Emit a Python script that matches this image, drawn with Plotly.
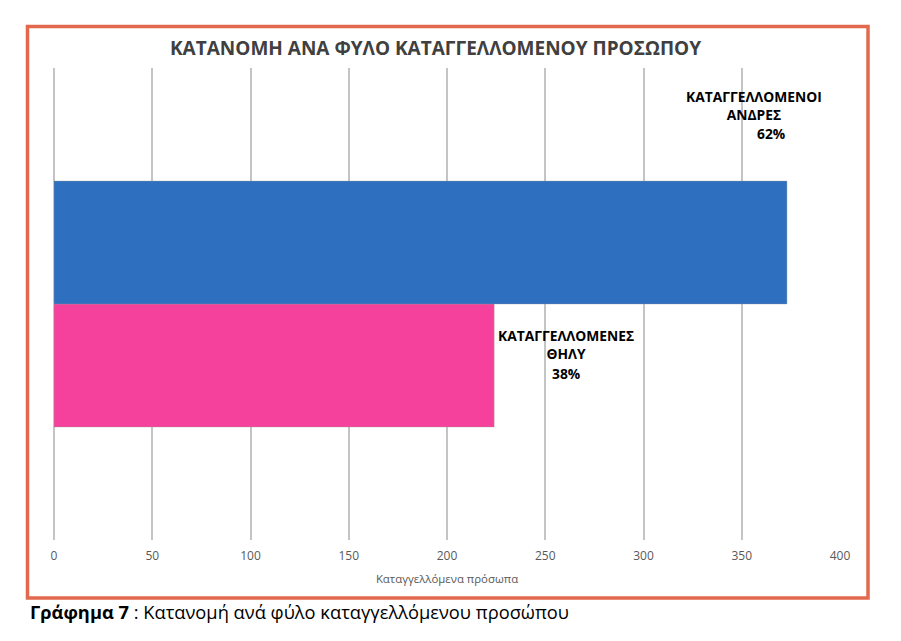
import plotly.graph_objects as go

# Data
categories = ["ΚΑΤΑΓΓΕΛΛΟΜΕΝΕΣ<br>ΘΗΛΥ", "ΚΑΤΑΓΓΕΛΛΟΜΕΝΟΙ<br>ΑΝΔΡΕΣ"]
values = [224, 373]
percents = ["38%", "62%"]
colors = ["#F6419C", "#2E6FBF"]
group = ["Φύλο"]
tick_vals = [0, 50, 100, 150, 200, 250, 300, 350, 400]

FONT = "Open Sans"
W, H = 901, 641
L, R, T, B = 54, 61, 68, 101
pw, ph = W - L - R, H - T - B

def px_to_paper_x(px):
    return (px - L) / pw

def px_to_paper_y(py):
    return (H - B - py) / ph

fig = go.Figure()
for cat, val, col in zip(categories, values, colors):
    fig.add_trace(go.Bar(
        x=[val], y=group, orientation="h", name=cat,
        marker=dict(color=col, line=dict(color="rgba(150,150,150,0.6)", width=0.6)),
        showlegend=False, hoverinfo="x",
    ))

# label placements (name, percentage) relative to bar end
name_shift = [72, -33]
pct_shift = [72, -16]
name_y = [344.5, 105]
pct_y = [373, 133]
for i in range(len(values)):
    fig.add_annotation(x=values[i], xref="x", y=px_to_paper_y(name_y[i]), yref="paper",
                       text="<b>" + categories[i] + "</b>", showarrow=False,
                       xshift=name_shift[i], xanchor="center", yanchor="middle",
                       font=dict(family=FONT, size=13.8, color="#000000"))
    fig.add_annotation(x=values[i], xref="x", y=px_to_paper_y(pct_y[i]), yref="paper",
                       text="<b>" + percents[i] + "</b>", showarrow=False,
                       xshift=pct_shift[i], xanchor="center", yanchor="middle",
                       font=dict(family=FONT, size=13.8, color="#000000"))

# title
fig.add_annotation(x=px_to_paper_x(435), xref="paper", y=px_to_paper_y(48), yref="paper",
                   text="<b>ΚΑΤΑΝΟΜΗ ΑΝΑ ΦΥΛΟ ΚΑΤΑΓΓΕΛΛΟΜΕΝΟΥ ΠΡΟΣΩΠΟΥ</b>",
                   showarrow=False, xanchor="center", yanchor="middle",
                   font=dict(family=FONT, size=19, color="#404040"))

# caption
fig.add_annotation(x=px_to_paper_x(28), xref="paper", y=px_to_paper_y(611), yref="paper",
                   text="<b>Γράφημα 7</b> : Κατανομή ανά φύλο καταγγελλόμενου προσώπου",
                   showarrow=False, xanchor="left", yanchor="middle",
                   font=dict(family=FONT, size=18.3, color="#000000"))

# frame
fig.add_shape(type="rect", xref="paper", yref="paper",
              x0=px_to_paper_x(27.5), x1=px_to_paper_x(868), y0=px_to_paper_y(598), y1=px_to_paper_y(26.5),
              line=dict(color="#E2694E", width=3.5), fillcolor="rgba(0,0,0,0)", layer="below")

fig.update_layout(
    width=W, height=H,
    margin=dict(l=L, r=R, t=T, b=B),
    paper_bgcolor="white", plot_bgcolor="white",
    barmode="group", bargap=0.479, bargroupgap=0,
    xaxis=dict(range=[0, 400], tickvals=tick_vals, showgrid=True, gridcolor="#C4C4C4", gridwidth=1.5,
               zeroline=True, zerolinecolor="#C4C4C4", zerolinewidth=1.5, showline=False,
               ticks="outside", ticklen=5, tickcolor="rgba(0,0,0,0)",
               tickfont=dict(family=FONT, size=12, color="#595959"),
               title=dict(text="Καταγγελλόμενα πρόσωπα", standoff=11,
                          font=dict(family=FONT, size=11.4, color="#595959"))),
    yaxis=dict(visible=False),
)

fig.write_html("out.html")
